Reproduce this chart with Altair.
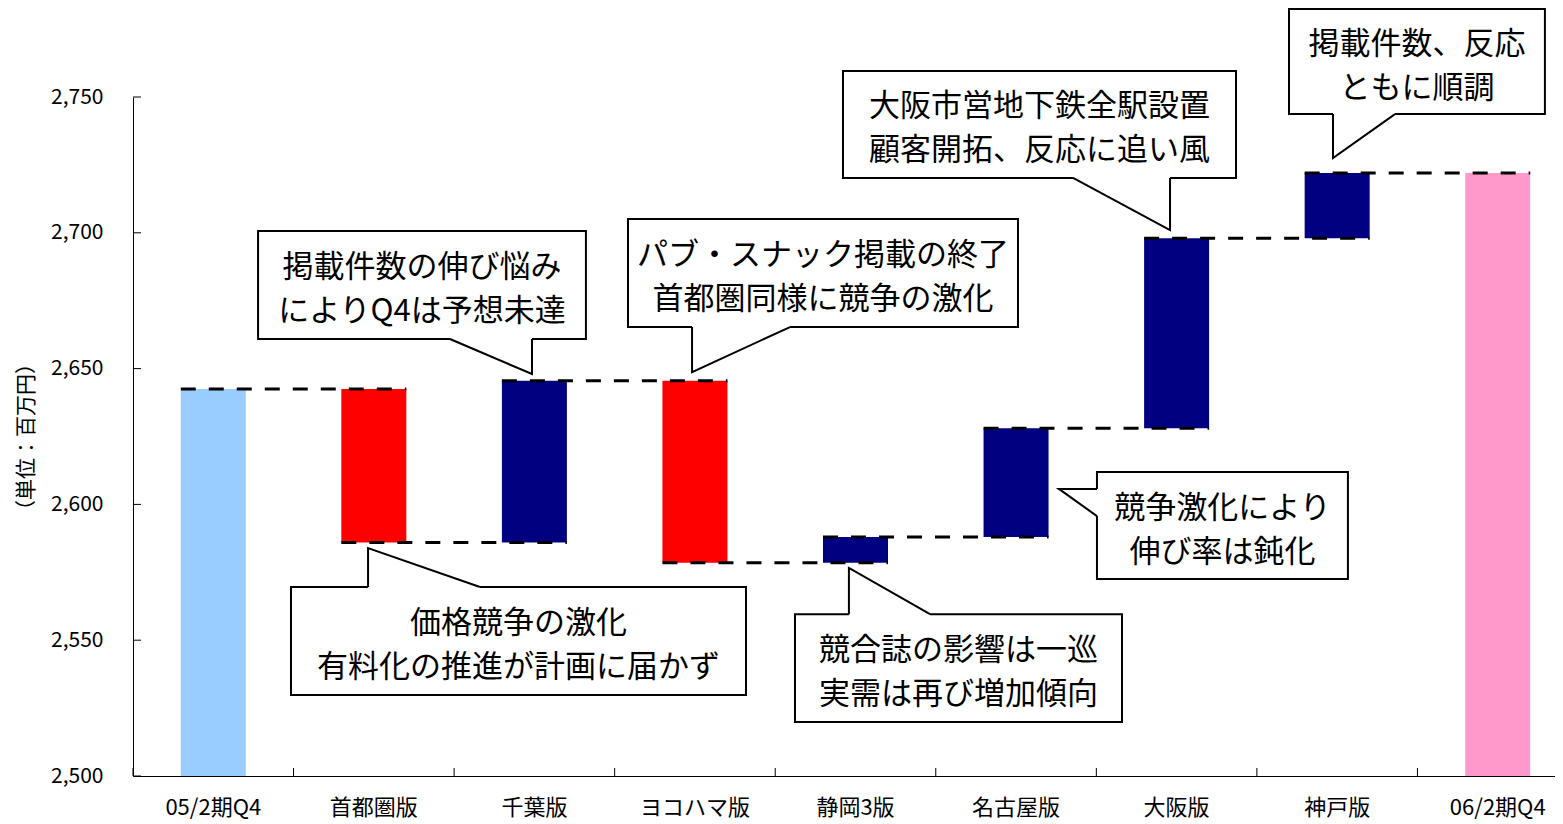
import altair as alt
import pandas as pd

# ---------------- data ----------------
categories = ["05/2期Q4", "首都圏版", "千葉版", "ヨコハマ版", "静岡3版",
              "名古屋版", "大阪版", "神戸版", "06/2期Q4"]
start_value = 2642.5
deltas = [-56.5, 59.5, -67.0, 9.5, 40.0, 70.0, 24.0]
y_ticks = [2500, 2550, 2600, 2650, 2700, 2750]

kind_domain = ["start", "up", "down", "end"]
kind_colors = ["#99CCFF", "#000080", "#FF0000", "#FF99CC"]

notes_text = [
    "掲載件数の伸び悩み\nによりQ4は予想未達",
    "パブ・スナック掲載の終了\n首都圏同様に競争の激化",
    "大阪市営地下鉄全駅設置\n顧客開拓、反応に追い風",
    "掲載件数、反応\nともに順調",
    "価格競争の激化\n有料化の推進が計画に届かず",
    "競合誌の影響は一巡\n実需は再び増加傾向",
    "競争激化により\n伸び率は鈍化",
]
# box: (x_left, x_right, y_top, y_bottom) in category units / value units
notes_box = [
    (0.779, 2.821, 2700.7, 2660.9),
    (3.083, 5.512, 2705.1, 2665.3),
    (4.422, 6.870, 2759.6, 2720.2),
    (7.200, 8.794, 2782.4, 2743.7),
    (0.984, 3.818, 2569.6, 2529.8),
    (4.123, 6.160, 2559.6, 2519.9),
    (6.004, 7.567, 2611.9, 2572.5),
]
# tail: base1, tip, base2
notes_tail = [
    ((1.974, 2660.9), (2.485, 2648.0), (2.485, 2660.9)),
    ((3.482, 2665.3), (3.482, 2648.7), (4.092, 2665.3)),
    ((5.855, 2720.2), (6.459, 2701.0), (6.459, 2720.2)),
    ((7.474, 2743.7), (7.474, 2727.5), (7.860, 2743.7)),
    ((1.464, 2569.6), (1.464, 2583.9), (2.161, 2569.6)),
    ((4.459, 2559.6), (4.459, 2576.6), (4.964, 2559.6)),
    ((6.004, 2605.7), (5.767, 2605.7), (6.004, 2595.7)),
]

# ---------------- layout ----------------
RANGE_W = 1445        # full x range (extends slightly past the visible width)
PLOT_W = 1422         # visible plot width
PLOT_H = 679
BAR_PX = 65
N = len(categories)
HW = BAR_PX / 2 / (RANGE_W / N)
FONT = "Noto Sans CJK JP"

# ---------------- tables ----------------
levels = [start_value]
for d in deltas:
    levels.append(levels[-1] + d)

bar_rows = [dict(cat=categories[0], low=2500, high=start_value, kind="start")]
for i, d in enumerate(deltas):
    a, b = levels[i], levels[i + 1]
    bar_rows.append(dict(cat=categories[i + 1], low=min(a, b), high=max(a, b),
                         kind="up" if d > 0 else "down"))
bar_rows.append(dict(cat=categories[-1], low=2500, high=levels[-1], kind="end"))
bars_df = pd.DataFrame(bar_rows)

conn_df = pd.DataFrame([
    dict(x1=i + 0.5 - HW, x2=i + 1.5 + HW, level=levels[i])
    for i in range(N - 1)
])

box_df = pd.DataFrame([
    dict(id=k, x0=b[0], x1=b[1], yt=b[2], yb=b[3],
         cx=(b[0] + b[1]) / 2, cy=(b[2] + b[3]) / 2, text=notes_text[k])
    for k, b in enumerate(notes_box)
])
cover_df = pd.DataFrame([
    dict(id=k, xa=t[0][0], ya=t[0][1], xb=t[2][0], yb=t[2][1])
    for k, t in enumerate(notes_tail)
])
tail_rows = []
for k, t in enumerate(notes_tail):
    for o, p in enumerate(t):
        tail_rows.append(dict(id=k, o=o, x=p[0], y=p[1]))
tail_df = pd.DataFrame(tail_rows)

# ---------------- scales / axes ----------------
yscale = alt.Scale(domain=[2500, 2750], nice=False, zero=False)
yaxis = alt.Axis(values=y_ticks, format=",d", ticks=False, grid=False,
                 domainColor="black", domainWidth=1,
                 labelFont=FONT, labelFontSize=21, labelColor="black",
                 labelPadding=30, title="（単位：百万円）",
                 titleFont=FONT, titleFontSize=21, titleFontWeight="normal",
                 titleColor="black", titlePadding=14)
xq = alt.Scale(domain=[0, N], nice=False, zero=False, range=[0, RANGE_W])

bars = alt.Chart(bars_df).mark_bar(size=BAR_PX).encode(
    x=alt.X("cat:N", sort=categories,
            scale=alt.Scale(paddingInner=0, paddingOuter=0, range=[0, RANGE_W]),
            axis=alt.Axis(title=None, ticks=False, labelAngle=0,
                          domainColor="black", domainWidth=1,
                          labelFont=FONT, labelFontSize=22, labelColor="black",
                          labelPadding=21)),
    y=alt.Y("low:Q", scale=yscale, axis=yaxis),
    y2="high:Q",
    color=alt.Color("kind:N", scale=alt.Scale(domain=kind_domain, range=kind_colors),
                    legend=None),
)

ytick_layer = alt.Chart(pd.DataFrame({"low": y_ticks})).mark_rule(
    color="black", strokeWidth=1).encode(
    y=alt.Y("low:Q", scale=yscale, axis=yaxis),
    x=alt.value(0), x2=alt.value(8),
)

xtick_layer = alt.Chart(pd.DataFrame({"b": list(range(N + 1))})).mark_rule(
    color="black", strokeWidth=1).encode(
    x=alt.X("b:Q", scale=xq, axis=None),
    y=alt.value(PLOT_H), y2=alt.value(PLOT_H - 8),
)

connectors = alt.Chart(conn_df).mark_rule(
    color="black", strokeWidth=3, strokeDash=[15, 13]).encode(
    x=alt.X("x1:Q", scale=xq, axis=None), x2="x2:Q",
    y=alt.Y("level:Q", scale=yscale, axis=yaxis),
)

boxes = alt.Chart(box_df).mark_rect(
    fill="white", stroke="black", strokeWidth=2).encode(
    x=alt.X("x0:Q", scale=xq, axis=None), x2="x1:Q",
    y=alt.Y("yt:Q", scale=yscale, axis=yaxis), y2="yb:Q",
)

covers = alt.Chart(cover_df).mark_rule(color="white", strokeWidth=3.5).encode(
    x=alt.X("xa:Q", scale=xq, axis=None), x2="xb:Q",
    y=alt.Y("ya:Q", scale=yscale, axis=yaxis), y2="yb:Q",
)

tails = alt.Chart(tail_df).mark_line(color="black", strokeWidth=2).encode(
    x=alt.X("x:Q", scale=xq, axis=None),
    y=alt.Y("y:Q", scale=yscale, axis=yaxis),
    detail="id:N", order="o:Q",
)

texts = alt.Chart(box_df).mark_text(
    font=FONT, fontSize=31, lineBreak="\n", lineHeight=44,
    align="center", baseline="middle", color="black", dy=-17).encode(
    x=alt.X("cx:Q", scale=xq, axis=None),
    y=alt.Y("cy:Q", scale=yscale, axis=yaxis),
    text="text:N",
)

chart = alt.layer(
    bars, ytick_layer, xtick_layer, connectors, boxes, covers, tails, texts
).resolve_scale(x="independent").properties(
    width=PLOT_W, height=PLOT_H,
    autosize=alt.AutoSizeParams(type="none"),
    padding={"left": 125, "top": 89, "right": 0, "bottom": 52},
    background="white",
).configure_view(stroke=None)

chart.save("out.html", embed_options={"renderer": "svg", "actions": False})
